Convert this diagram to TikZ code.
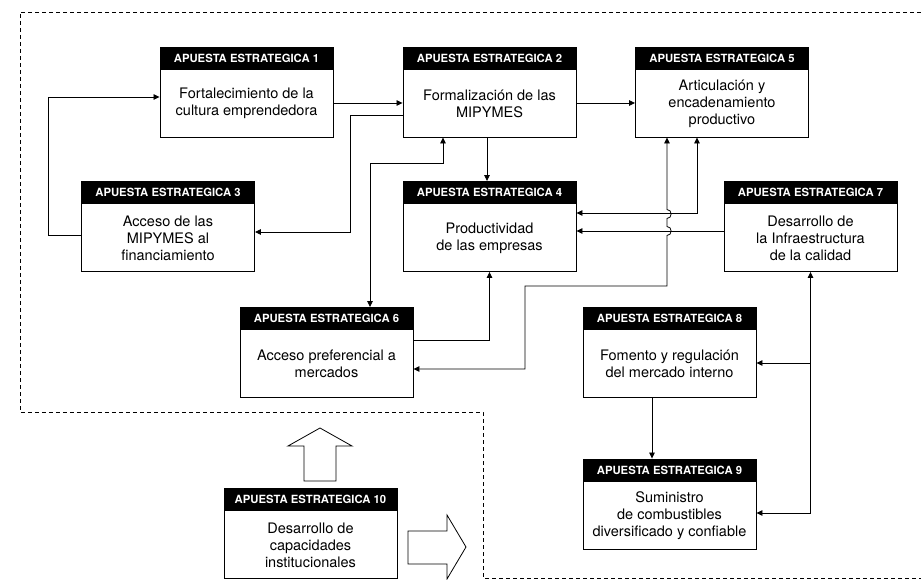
\documentclass[tikz,border=0pt]{standalone}
\usepackage{fontspec}
\setmainfont{TeX Gyre Heros}
\usetikzlibrary{arrows.meta,calc}
\newcommand\apbox[5]{%
  \node[boxbody] (#1) at (#2,#3) {};
  \node[hdr] (#1h) at (#1.north) {APUESTA ESTRATEGICA #4};
  \node[bodytxt] (#1t) at ($(#1.south)!0.5!(#1h.south)$) {#5};
}
\begin{document}
\begin{tikzpicture}[x=1pt,y=-1pt,
  boxbody/.style={draw=black, line width=0.9pt, minimum width=173pt, minimum height=90pt, inner sep=0pt, fill=white},
  hdr/.style={fill=black, text=white, font=\bfseries\fontsize{11.3}{13}\selectfont, minimum width=173pt, minimum height=23pt, inner sep=0pt, anchor=north},
  bodytxt/.style={align=center, font=\fontsize{14.5}{17}\selectfont, inner sep=0pt},
  tip/.tip={Triangle[length=6pt,width=5.5pt]},
  conn/.style={line width=0.8pt, -tip},
  conn2/.style={line width=0.8pt, tip-tip},
  plain/.style={line width=0.8pt},
  hollow/.style={draw, line width=0.8pt, fill=white},
  frame/.style={line width=0.7pt, dash pattern=on 4pt off 3pt}
]
\useasboundingbox (0,0) rectangle (921,580);
% dashed frame
\draw[frame] (921,12) -- (20,12) -- (20,412) -- (483,412) -- (483,578) -- (921,578);

% boxes
\apbox{b1}{246.5}{92}{1}{Fortalecimiento de la\\cultura emprendedora}
\apbox{b2}{489.5}{92}{2}{Formalización de las\\MIPYMES}
\apbox{b5}{722}{92}{5}{Articulación y\\encadenamiento\\productivo}
\apbox{b3}{168}{226.5}{3}{Acceso de las\\MIPYMES al\\financiamiento}
\apbox{b4}{489.5}{226.5}{4}{Productividad\\de las empresas}
\apbox{b7}{810.5}{226.5}{7}{Desarrollo de\\la Infraestructura\\de la calidad}
\apbox{b6}{326.5}{352.5}{6}{Acceso preferencial a\\mercados}
\apbox{b8}{669.5}{352.5}{8}{Fomento y regulación\\del mercado interno}
\apbox{b9}{669.5}{504}{9}{Suministro\\de combustibles\\diversificado y confiable}
\apbox{b10}{310.5}{533.5}{10}{Desarrollo de\\capacidades\\institucionales}

% connectors
\draw[conn] ([yshift=-8.5pt]b3.west) -- (48,235) -- (48,97) -- ([yshift=-5pt]b1.west);
\draw[conn] ([yshift=-11pt]b1.east) -- ([yshift=-11pt]b2.west);
\draw[conn] ([yshift=-23pt]b2.west) -- (350,115) -- (350,232) -- ([yshift=-5.5pt]b3.east);
\draw[conn2] ([xshift=-46.5pt]b2.south) -- (443,163) -- (370,163) -- ([xshift=43.5pt]b6.north);
\draw[conn] ([xshift=-2.5pt]b2.south) -- ([xshift=-2.5pt]b4.north);
\draw[conn] ([yshift=-11pt]b2.east) -- ([yshift=-11pt]b5.west);
\draw[conn] ([yshift=12.5pt]b6.east) -- (489.5,340) -- (b4.south);
\draw[conn2] ([xshift=-25pt]b5.south) -- (697,213) -- ([yshift=13.5pt]b4.east);
\draw[conn] ([yshift=-4.5pt]b7.west) -- ([yshift=-4.5pt]b4.east);
\draw[conn2] ([yshift=-16.5pt]b6.east) -- (525,369) -- (525,286) -- (667,286)
  -- (667,235.5) .. controls (672.5,235.5) and (672.5,226.5) .. (667,226.5)
  -- (667,218.5) .. controls (672.5,218.5) and (672.5,209.5) .. (667,209.5)
  -- ([xshift=-55pt]b5.south);
\draw[conn2] ([yshift=-9pt]b9.east) -- (810.5,513) -- (b7.south);
\coordinate (j1) at (810.5,363);
\draw[conn] (j1) -- ([yshift=-10.5pt]b8.east);
\draw[conn] ([xshift=-17.5pt]b8.south) -- ([xshift=-17.5pt]b9.north);

% hollow arrows
\draw[hollow] (304,481) -- (304,446) -- (288,446) -- (320,428) -- (352,446) -- (336,446) -- (336,481) -- cycle;
\draw[hollow] (408,531) -- (447,531) -- (447,515) -- (466,547) -- (447,579) -- (447,564) -- (408,564) -- cycle;
\end{tikzpicture}
\end{document}
